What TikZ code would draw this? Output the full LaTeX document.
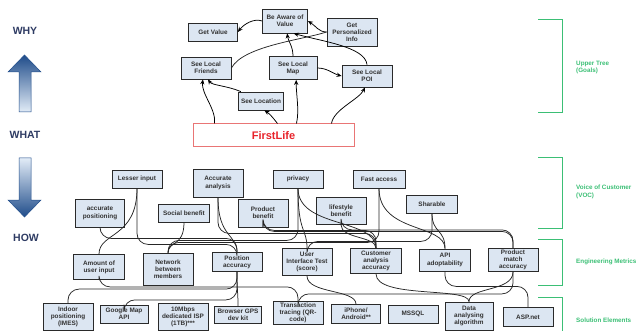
\documentclass[tikz,border=0pt]{standalone}
\usepackage{fontspec}
\setmainfont{Liberation Sans}
\usetikzlibrary{arrows.meta,calc}

\definecolor{boxfill}{HTML}{DCE6F2}
\definecolor{boxline}{HTML}{2A2A2A}
\definecolor{boxtext}{HTML}{333333}
\definecolor{bracketgreen}{HTML}{3BBF75}
\definecolor{axistext}{HTML}{2E3B63}
\definecolor{arrowdark}{HTML}{1F4C8A}
\definecolor{arrowlight}{HTML}{E2ECF7}
\definecolor{flborder}{HTML}{E97575}
\definecolor{fltext}{HTML}{E8232B}

\newcommand\nodefnt{\fontsize{6.4}{7.2}\selectfont\bfseries}
\newcommand\sidefnt{\fontsize{6.3}{7.4}\selectfont\bfseries}

\tikzset{
  box/.style={draw=boxline, fill=boxfill, line width=0.8pt, text=boxtext,
    font=\nodefnt, align=center, inner sep=0.5pt},
  sz/.style 2 args={minimum width=#1pt, minimum height=#2pt},
  goal/.style={-{Stealth[length=5pt,width=4.2pt]}, line width=0.75pt, black},
  link/.style={line width=0.75pt, black!85},
  wire/.style={link, rounded corners=11pt},
  bracket/.style={draw=bracketgreen, line width=1pt},
  sidelabel/.style={text=bracketgreen, font=\sidefnt, align=left, anchor=west, inner sep=0pt},
  axislabel/.style={text=axistext, font=\fontsize{10.5}{12}\selectfont\bfseries},
  firstbox/.style={draw=flborder, fill=white, line width=1pt, text=fltext,
    font=\fontsize{11}{13}\selectfont\bfseries, minimum width=161pt, minimum height=23pt}
}

\begin{document}
\begin{tikzpicture}[x=1pt,y=-1pt]
\useasboundingbox (0,0) rectangle (639,331);

% ---- WHY / WHAT / HOW axis ----
\node[axislabel] (why) at (25,31) {WHY};
\node[axislabel] (what) at (25,135) {WHAT};
\node[axislabel] (how) at (26,238) {HOW};
\shade[top color=arrowdark, bottom color=arrowlight, draw=arrowdark, line width=0.5pt]
  (19,112) -- (19,72) -- (8,72) -- (24.5,55) -- (41,72) -- (31,72) -- (31,112) -- cycle;
\shade[top color=arrowlight, bottom color=arrowdark, draw=arrowdark, line width=0.5pt]
  (19,158) -- (19,200) -- (8,200) -- (24.5,217) -- (41,200) -- (31,200) -- (31,158) -- cycle;

% ---- upper tree (goals) ----
\node[box, sz={49}{18}] (getvalue) at (213,32) {Get Value};
\node[box, sz={45}{24}] (aware) at (285,21) {Be Aware of\\Value};
\node[box, sz={50}{28}] (personal) at (352,32) {Get\\Personalized\\Info};
\node[box, sz={50}{22}] (friends) at (206,68) {See Local\\Friends};
\node[box, sz={48}{23}] (map) at (293,68) {See Local\\Map};
\node[box, sz={50}{22}] (poi) at (367,76) {See Local\\POI};
\node[box, sz={45}{18}] (location) at (261,101) {See Location};
\node[firstbox] (firstlife) at (273.5,135.5) {FirstLife};

\coordinate (fl1) at ($(firstlife.north west)+(22,0)$);
\coordinate (fl2) at ($(firstlife.north west)+(85,0)$);
\coordinate (fl3) at ($(firstlife.north west)+(104,0)$);
\coordinate (fl4) at ($(firstlife.north west)+(139,0)$);

\draw[goal] (aware.west) .. controls +(-8,-3) and +(6,-8) .. (getvalue.east);
\draw[goal] (personal.west) .. controls +(-8,0) and +(8,5) .. (aware.east);
\draw[link] (friends.east) .. controls +(12,-22) and +(-25,8) .. (personal.west);
\draw[goal] (map.north) .. controls +(0,-10) and +(1,8) .. (aware.-80);
\draw[goal] (poi.north) .. controls +(-2,-18) and +(28,8) .. (aware.-55);
\draw[goal] (map.east) .. controls +(10,0) and +(-8,-2) .. (poi.west);
\draw[goal] (location.155) .. controls +(-14,-6) and +(4,6) .. (friends.-80);
\draw[goal] (fl1) .. controls +(2,-14) and +(-2,14) .. (friends.-105);
\draw[goal] (fl2) .. controls +(-4,-5) and +(6,4) .. (location.-70);
\draw[goal] (fl3) .. controls +(3,-14) and +(0,16) .. (map.-75);
\draw[goal] (fl4) .. controls +(2,-14) and +(-6,12) .. (poi.-100);

% ---- voice of customer ----
\node[box, sz={50}{18}] (lesser) at (137,179) {Lesser input};
\node[box, sz={49}{28}] (accpos) at (100,213) {accurate\\positioning};
\node[box, sz={50}{28}] (accana) at (218,183) {Accurate\\analysis};
\node[box, sz={51}{18}] (social) at (184,213) {Social benefit};
\node[box, sz={50}{28}] (prodben) at (263,213) {Product\\benefit};
\node[box, sz={50}{18}] (privacy) at (298,179) {privacy};
\node[box, sz={52}{18}] (fast) at (379,179) {Fast access};
\node[box, sz={50}{27}] (lifestyle) at (341,211) {lifestyle\\benefit};
\node[box, sz={51}{18}] (sharable) at (432,204) {Sharable};

% ---- engineering metrics ----
\node[box, sz={51}{25}] (amount) at (99,267) {Amount of\\user input};
\node[box, sz={50}{32}] (network) at (168,269) {Network\\between\\members};
\node[box, sz={50}{19}] (position) at (237,262) {Position\\accuracy};
\node[box, sz={50}{27}] (uit) at (307,262) {User\\Interface Test\\(score)};
\node[box, sz={51}{25}] (custacc) at (376,261) {Customer\\analysis\\accuracy};
\node[box, sz={51}{22}] (api) at (445,260) {API\\adoptability};
\node[box, sz={50}{23}] (prodmatch) at (513,260) {Product\\match\\accuracy};

% ---- solution elements ----
\node[box, sz={50}{27}] (indoor) at (68,317) {Indoor\\positioning\\(IMES)};
\node[box, sz={48}{18}] (gmap) at (124,314) {Google Map\\API};
\node[box, sz={50}{27}] (isp) at (183,317) {10Mbps\\dedicated ISP\\(1TB)***};
\node[box, sz={47}{17}] (browser) at (238,315) {Browser GPS\\dev kit};
\node[box, sz={50}{23}] (transaction) at (298,313) {Transaction\\tracing (QR-\\code)};
\node[box, sz={49}{19}] (iphone) at (356,314) {iPhone/\\Android**};
\node[box, sz={50}{18}] (mssql) at (413,314) {MSSQL};
\node[box, sz={48}{28}] (data) at (469,316) {Data\\analysing\\algorithm};
\node[box, sz={50}{19}] (asp) at (528,317) {ASP.net};

% ---- VOC to metrics ----
\draw[link] (lesser.south) .. controls +(0,50) and +(0,-22) .. (amount.north);
\draw[wire] (lesser.south) -- ++(0,56) -| (position.north);
\draw[wire] (accpos.south) -- ++(0,11) -| (position.north);
\draw[link] (social.south) .. controls +(0,25) and +(0,-12) .. (network.north);
\draw[link] (accana.south) .. controls +(0,40) and +(0,-18) .. (position.north);
\draw[wire] (accana.south) -- ++(0,36) -| (custacc.north);
\draw[wire] (prodben.south) -- ++(0,3) -| (custacc.north);
\draw[wire] (prodben.south) -- ++(0,4) -| (prodmatch.north);
\draw[wire] (privacy.south) -- ++(0,52) -| (network.north);
\draw[link] (privacy.south) .. controls +(0,45) and +(0,-20) .. (uit.north);
\draw[link] (privacy.south) .. controls +(0,40) and +(0,-30) .. (custacc.north);
\draw[link] (lifestyle.south) .. controls +(0,14) and +(0,-12) .. (custacc.north);
\draw[wire] (lifestyle.south) -- ++(0,5) -| (prodmatch.north);
\draw[wire] (fast.south) -- ++(0,54) -| (network.north);
\draw[link] (fast.south) .. controls +(0,45) and +(0,-25) .. (api.north);
\draw[link] (sharable.south) .. controls +(0,20) and +(0,-20) .. (api.north);
\draw[wire] (sharable.south) -- ++(0,28) -| (uit.north);

% ---- metrics to solution elements ----
\draw[wire] (amount.south) -- ++(0,7) -| (transaction.north);
\draw[wire] (indoor.north) -- ++(0,-14) -| (position.south);
\draw[wire] (position.south) -- ++(0,28) -| (gmap.north);
\draw[link] (position.south) .. controls +(0,20) and +(0,-15) .. (browser.north);
\draw[link] (uit.south) .. controls +(0,18) and +(0,-15) .. (iphone.north);
\draw[link] (custacc.south) .. controls +(0,25) and +(0,-15) .. (data.north);
\draw[link] (prodmatch.south) .. controls +(0,20) and +(0,-15) .. (data.north);
\draw[wire] (prodmatch.south) -- ++(0,22) -| (transaction.north);
\draw[wire] (api.south) -- ++(0,15) -| (asp.north);

% ---- green brackets and their labels ----
\draw[bracket] (538,20) -- (562,20) -- (562,113) -- (538,113);
\draw[bracket] (538,158) -- (562,158) -- (562,228) -- (538,228);
\draw[bracket] (538,239) -- (562,239) -- (562,285) -- (538,285);
\draw[bracket] (538,297) -- (562,297) -- (562,332);
\node[sidelabel] (lblgoals) at (576,67.5) {Upper Tree\\(Goals)};
\node[sidelabel] (lblvoc) at (576,192) {Voice of Customer\\(VOC)};
\node[sidelabel] (lblem) at (576,262) {Engineering Metrics};
\node[sidelabel] (lblse) at (576,320) {Solution Elements};
\end{tikzpicture}
\end{document}
